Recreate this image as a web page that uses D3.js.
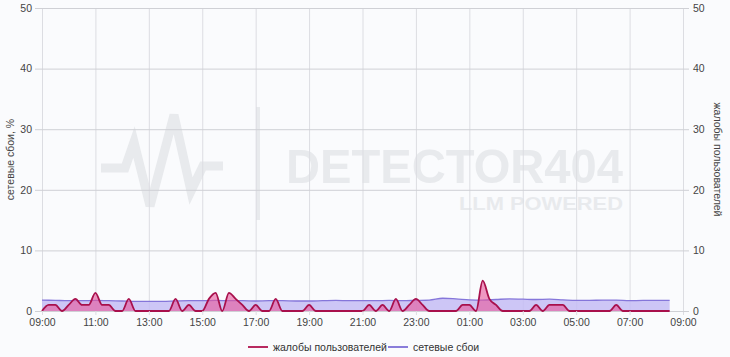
<!DOCTYPE html>
<html>
<head>
<meta charset="utf-8">
<script src="https://cdn.jsdelivr.net/npm/d3@7"></script>
<style>
  body { margin: 0; background: #fafbfd; }
  svg { display: block; font-family: "Liberation Sans", Arial, sans-serif; }
</style>
</head>
<body>
<div id="chart"></div>
<script>
// one day window, 09:00 -> 09:00
var startTime = new Date(2024, 0, 1, 9, 0);
var endTime = new Date(2024, 0, 2, 9, 0);

// x ticks, hours after 09:00
var xTickHours = [0, 2, 4, 6, 8, 10, 12, 14, 16, 18, 20, 22, 24];

// complaints, one value per 15 minutes starting 09:00
var complaints = [
   0, 1, 1, 0, 1, 2, 1, 1, 3, 1, 1, 0,      // 09:00 - 11:45
   0, 2, 0, 0, 0, 0, 0, 0, 2, 0, 1, 0,      // 12:00 - 14:45
   0, 2, 3, 0, 3, 2, 1, 0, 1, 0, 0, 2,      // 15:00 - 17:45
   0, 0, 0, 0, 1, 0, 0, 0, 0, 0, 0, 0,      // 18:00 - 20:45
   0, 1, 0, 1, 0, 2, 0, 1, 2, 1, 0, 0,      // 21:00 - 23:45
   0, 0, 0, 1, 1, 0, 5, 2, 1, 0, 0, 0,      // 00:00 - 02:45
   0, 0, 1, 0, 1, 1, 1, 0, 0, 0, 0, 0,      // 03:00 - 05:45
   0, 0, 1, 0, 0, 0, 0, 0, 0, 0, 0          // 06:00 - 08:30
];

// network failures %, one value per 30 minutes starting 09:00
var network = [
   1.8, 1.75, 1.7, 1.7, 1.75, 1.7, 1.65, 1.6,
   1.6, 1.6, 1.65, 1.7, 1.7, 1.75, 1.7, 1.7,
   1.65, 1.7, 1.7, 1.65, 1.65, 1.7, 1.75, 1.7,
   1.7, 1.7, 1.75, 1.7, 1.75, 1.8, 2.1, 2.0,
   1.85, 1.8, 1.9, 2.0, 1.95, 1.9, 1.95, 1.85,
   1.75, 1.75, 1.8, 1.8, 1.7, 1.75, 1.75, 1.75
];

var yTicks = [0, 10, 20, 30, 40, 50];
var leftTitle = "сетевые сбои, %";
var rightTitle = "жалобы пользователей";
var legendItems = [
   {name: "жалобы пользователей", color: "#b0124e"},
   {name: "сетевые сбои", color: "#7d6fd6"}
];

function draw_chart() {

   var W = 730, H = 357;
   var margin = {top: 8, right: 47, bottom: 46, left: 42};
   var width = W - margin.left - margin.right,
       height = H - margin.top - margin.bottom;

   var svg = d3.select("#chart").append("svg")
               .attr("width", W)
               .attr("height", H);

   svg.append("rect").attr("width", W).attr("height", H).attr("fill", "#fafbfd");

   // watermark, behind the grid
   var wm = svg.append("g").attr("fill", "none").attr("stroke", "#e8eaed");
   wm.append("path")
     .attr("d", "M101,168 L125,168 L134,142 L150,206 L174,115 L191,191 L203,166 L223,166")
     .attr("stroke-width", 9).attr("stroke-linejoin", "miter");
   wm.append("line").attr("x1", 258).attr("x2", 258).attr("y1", 107).attr("y2", 220)
     .attr("stroke-width", 4);
   svg.append("text").text("DETECTOR404")
      .attr("x", 286).attr("y", 183)
      .attr("textLength", 337).attr("lengthAdjust", "spacingAndGlyphs")
      .attr("font-size", 49).attr("font-weight", "bold").attr("fill", "#e8eaed");
   svg.append("text").text("LLM POWERED")
      .attr("x", 459).attr("y", 210)
      .attr("textLength", 164).attr("lengthAdjust", "spacingAndGlyphs")
      .attr("font-size", 19).attr("font-weight", "bold").attr("fill", "#e8eaed");

   var g = svg.append("g")
              .attr("transform", "translate(" + margin.left + "," + margin.top + ")");

   var x = d3.scaleTime().domain([startTime, endTime]).range([0, width]);
   var yL = d3.scaleLinear().domain([0, 50]).range([height, 0]);
   var yR = d3.scaleLinear().domain([0, 50]).range([height, 0]);

   var xTicks = xTickHours.map(function(h) { return d3.timeHour.offset(startTime, h); });

   // vertical grid
   g.append("g")
    .attr("transform", "translate(0," + height + ")")
    .call(d3.axisBottom(x).tickValues(xTicks).tickSize(-height).tickFormat(""))
    .call(function(s) {
       s.select(".domain").remove();
       s.selectAll("line").attr("stroke", "#dcdde2");
    });

   // horizontal grid
   g.append("g")
    .call(d3.axisLeft(yL).tickValues(yTicks).tickSize(-width).tickFormat(""))
    .call(function(s) {
       s.select(".domain").remove();
       s.selectAll("line").attr("stroke", "#cfd0d5");
    });

   // series data
   var netData = network.map(function(v, i) {
      return {time: d3.timeMinute.offset(startTime, 30 * i), value: v};
   });
   var compData = complaints.map(function(v, i) {
      return {time: d3.timeMinute.offset(startTime, 15 * i), value: v};
   });

   var curve = d3.curveMonotoneX;

   g.append("path")
    .datum(netData)
    .attr("fill", "#c4bcf4").attr("fill-opacity", 0.85)
    .attr("d", d3.area().curve(curve)
                .x(function(d) { return x(d.time); })
                .y0(height)
                .y1(function(d) { return yL(d.value); }));
   g.append("path")
    .datum(netData)
    .attr("fill", "none").attr("stroke", "#8576da").attr("stroke-width", 1.3)
    .attr("d", d3.line().curve(curve)
                .x(function(d) { return x(d.time); })
                .y(function(d) { return yL(d.value); }));

   g.append("path")
    .datum(compData)
    .attr("fill", "#e8559a").attr("fill-opacity", 0.6)
    .attr("d", d3.area().curve(curve)
                .x(function(d) { return x(d.time); })
                .y0(height)
                .y1(function(d) { return yR(d.value); }));
   g.append("path")
    .datum(compData)
    .attr("fill", "none").attr("stroke", "#a8104c").attr("stroke-width", 1.8)
    .attr("d", d3.line().curve(curve)
                .x(function(d) { return x(d.time); })
                .y(function(d) { return yR(d.value); }));

   // axes
   var xAxis = g.append("g")
    .attr("transform", "translate(0," + height + ")")
    .call(d3.axisBottom(x).tickValues(xTicks)
            .tickFormat(d3.timeFormat("%H:%M")).tickSize(4).tickPadding(4));
   xAxis.select(".domain").remove();
   xAxis.selectAll("line").attr("stroke", "#dcdde2");
   xAxis.selectAll("text").attr("font-size", 10.5).attr("fill", "#444");

   var leftAxis = g.append("g")
    .call(d3.axisLeft(yL).tickValues(yTicks).tickSize(7).tickPadding(3));
   leftAxis.select(".domain").remove();
   leftAxis.selectAll("line").attr("stroke", "#cfd0d5");
   leftAxis.selectAll("text").attr("font-size", 10.5).attr("fill", "#444");

   var rightAxis = g.append("g")
    .attr("transform", "translate(" + width + ",0)")
    .call(d3.axisRight(yR).tickValues(yTicks).tickSize(6).tickPadding(4));
   rightAxis.select(".domain").remove();
   rightAxis.selectAll("line").attr("stroke", "#cfd0d5");
   rightAxis.selectAll("text").attr("font-size", 10.5).attr("fill", "#444");

   // axis titles
   svg.append("text").text(leftTitle)
      .attr("transform", "translate(14," + (margin.top + height / 2) + ") rotate(-90)")
      .attr("text-anchor", "middle").attr("font-size", 10.5).attr("fill", "#444");
   svg.append("text").text(rightTitle)
      .attr("transform", "translate(714," + (margin.top + height / 2) + ") rotate(90)")
      .attr("text-anchor", "middle").attr("font-size", 10.5).attr("fill", "#444");

   // legend
   var legend = svg.append("g").attr("transform", "translate(248,347)");
   var offsets = [0, 140];
   legendItems.forEach(function(item, i) {
      var lg = legend.append("g").attr("transform", "translate(" + offsets[i] + ",0)");
      lg.append("line").attr("x1", 0).attr("x2", 20).attr("y1", 0).attr("y2", 0)
        .attr("stroke", item.color).attr("stroke-width", 1.8);
      lg.append("text").text(item.name).attr("x", 25).attr("y", 4)
        .attr("font-size", 10.5).attr("fill", "#333");
   });
}

draw_chart();
</script>
</body>
</html>
